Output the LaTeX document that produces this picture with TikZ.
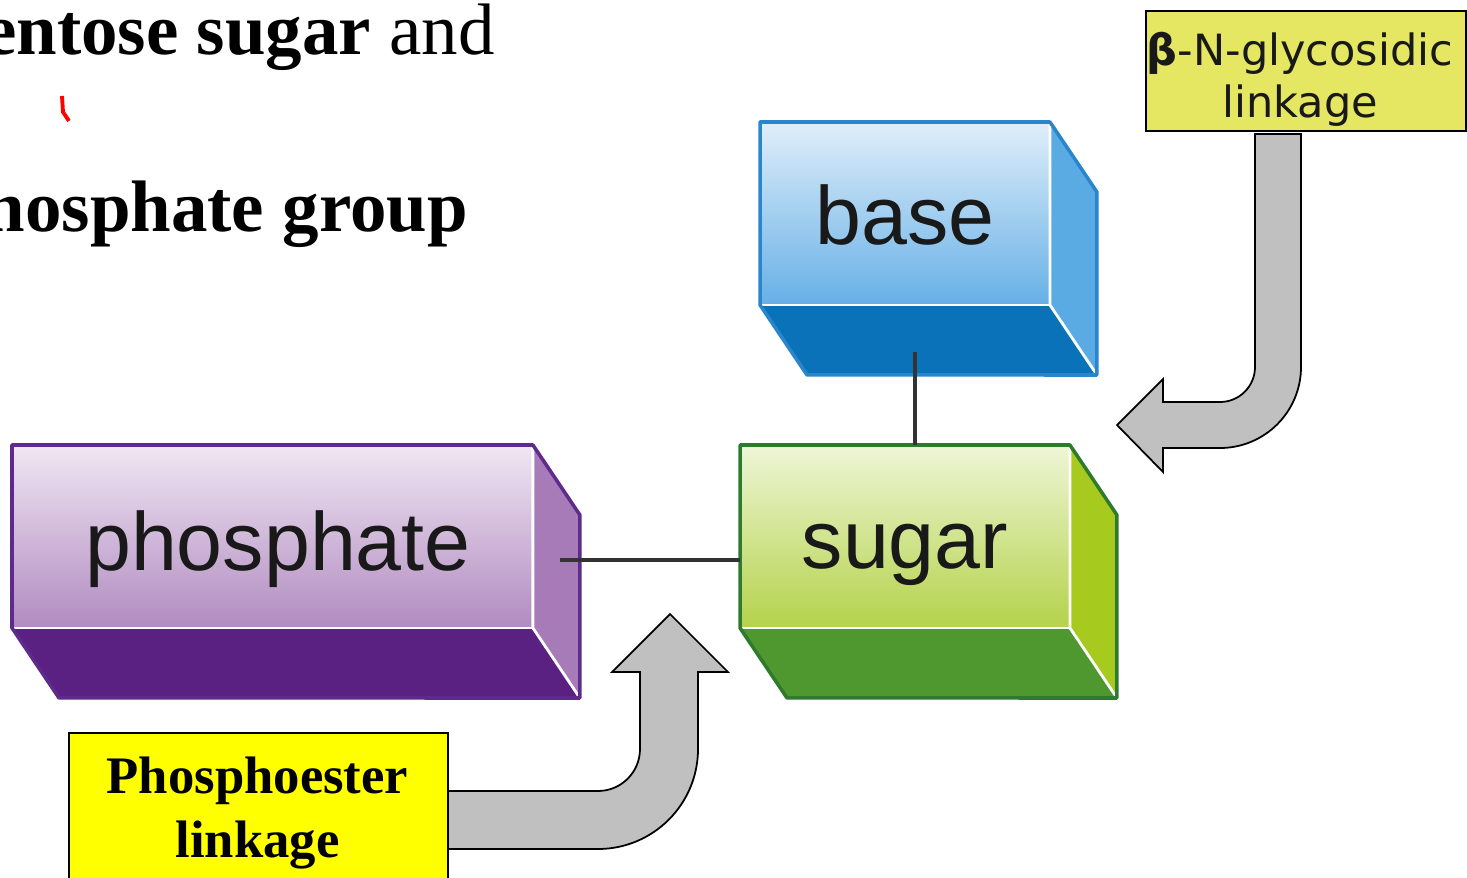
\documentclass[tikz,border=0pt]{standalone}
\usepackage{fontspec}
\setmainfont{Liberation Serif}
\newfontfamily\arialfont{Liberation Sans}
\newfontfamily\verdanafont{DejaVu Sans}

% block colours
\definecolor{base-top}{HTML}{E0EEFA}
\definecolor{base-bot}{HTML}{66B0E6}
\definecolor{base-side}{HTML}{5AAAE4}
\definecolor{base-floor}{HTML}{0A72B8}
\definecolor{base-line}{HTML}{2A86CC}
\definecolor{phosphate-top}{HTML}{F0E6F3}
\definecolor{phosphate-bot}{HTML}{B18BC0}
\definecolor{phosphate-side}{HTML}{A77BB8}
\definecolor{phosphate-floor}{HTML}{5A2183}
\definecolor{phosphate-line}{HTML}{5E2B8C}
\definecolor{sugar-top}{HTML}{EEF6D6}
\definecolor{sugar-bot}{HTML}{B4D24A}
\definecolor{sugar-side}{HTML}{A6CB1E}
\definecolor{sugar-floor}{HTML}{4F972F}
\definecolor{sugar-line}{HTML}{2F7A2C}
\definecolor{glyco-fill}{HTML}{E5E662}
\definecolor{ester-fill}{HTML}{FFFF00}
\definecolor{arrowgray}{HTML}{C0C0C0}

\tikzset{
  front/.style={inner sep=0pt, outer sep=0pt, minimum height=3.66cm, anchor=north west},
  boxlabel/.style={font=\arialfont\fontsize{47}{50}\selectfont, text=black!90, anchor=base, inner sep=0pt},
  link/.style={line width=2.2pt, black!80},
  bentarrow/.style={fill=arrowgray, draw=black, line width=1pt, line join=miter},
  namebox/.style={draw=black, line width=1.3pt, inner sep=0pt, anchor=north west},
}

\begin{document}
\begin{tikzpicture}[x=0.02cm, y=-0.02cm]
  \useasboundingbox (0,0) rectangle (1467,878);
  \clip (0,0) rectangle (1467,878);

  % Heading text, cut by the left edge
  \node[anchor=base east, inner sep=0pt, font=\fontsize{41.5}{48}\selectfont] (line1) at (495,55) {\textbf{entose sugar} and};
  \node[anchor=base east, inner sep=0pt, font=\fontsize{41.5}{48}\selectfont] (line2) at (468,232) {\textbf{hosphate group}};
  \draw[red, line width=2.2pt] (62,96) -- (63,112) -- (69,121);

  % The three blocks
  \foreach \name/\x/\y/\w in {base/760/122/5.8, phosphate/12/445/10.42, sugar/740/445/6.6} {
    \node[front, minimum width=\w cm, top color=\name-top, bottom color=\name-bot] (\name) at (\x,\y) {};
    \fill[\name-side] (\name.north east) -- ++(47,70) -- ++(0,183) -- (\name.south east) -- cycle;
    \fill[\name-floor] (\name.south west) -- (\name.south east) -- ++(47,70) -- ([shift={(47,70)}]\name.south west) -- cycle;
    \draw[white, line width=1.6pt] (\name.north east) -- (\name.south east) -- ++(47,70);
    \draw[white, line width=1.6pt] (\name.south west) -- (\name.south east);
    \draw[\name-line, line width=2pt, line join=round] (\name.south west) -- (\name.north west) -- (\name.north east) -- ++(47,70) -- ++(0,183) -- ([shift={(47,70)}]\name.south west) -- cycle;
  }
  \node[boxlabel] (base-text) at (905,245) {base};
  \node[boxlabel] (phosphate-text) at (278,570) {phosphate};
  \node[boxlabel] (sugar-text) at (905,568) {sugar};

  % Bonds
  \coordinate (stem) at (915,352);
  \draw[link] (stem) -- (stem |- sugar.north);
  \coordinate (tail) at (560,560);
  \draw[link] (tail) -- (tail -| sugar.west);

  % Linkage labels
  \node[namebox, fill=glyco-fill, minimum width=6.4cm, minimum height=2.4cm] (glyco) at (1145,10) {};
  \node[anchor=north, inner sep=0pt, align=center, text=black!90, font=\verdanafont\fontsize{24.5}{29.5}\selectfont] (glyco-text) at (1300,32) {{\bfseries β}-N-glycosidic\\linkage};
  \node[namebox, fill=ester-fill, minimum width=7.58cm, minimum height=3.2cm] (ester) at (68,732) {};
  \node[anchor=north, inner sep=0pt, align=center, font=\bfseries\fontsize{30}{36}\selectfont] (ester-text) at (257.5,757) {Phosphoester\\linkage};

  % Bent arrows
  \draw[bentarrow] (1255,134) -- (1255,367) arc[start angle=0, end angle=90, radius=35] -- (1163,402) -- (1163,379) -- (1117,425) -- (1163,472) -- (1163,448) -- (1220,448) arc[start angle=90, end angle=0, radius=81] -- (1301,134) -- cycle;
  \draw[bentarrow] (ester.east |- 0,791) -- (598,791) arc[start angle=90, end angle=0, radius=42] -- (640,672) -- (612,672) -- (670,614) -- (728,672) -- (698,672) -- (698,749) arc[start angle=0, end angle=90, radius=100] -- (ester.east |- 0,849);
\end{tikzpicture}
\end{document}
